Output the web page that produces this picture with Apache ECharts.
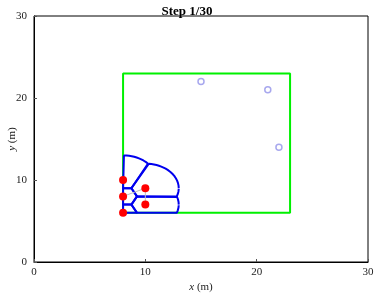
<!DOCTYPE html>
<html><head><meta charset="utf-8">
<script src="https://cdn.jsdelivr.net/npm/echarts@6/dist/echarts.min.js"></script>
<style>html,body{margin:0;padding:0;background:#fff}#c{width:374px;height:294px}</style>
</head><body><div id="c"></div>
<script>
const titleText = 'Step 1/30';
const xTicks = [0, 10, 20, 30];
const yTicks = [0, 10, 20, 30];
const regionX = [8, 23];
const regionY = [6, 23];
const robotsX = [8, 8, 8, 10, 10];
const robotsY = [10, 8, 6, 9, 7];
const sensingRadius = 3;
const targetsX = [15, 21, 22];
const targetsY = [22, 21, 14];
const linkPath = [[1, 3], [3, 4]];

function clip(poly, a, b, c) {
  const out = [];
  for (let i = 0; i < poly.length; i++) {
    const p = poly[i], q = poly[(i + 1) % poly.length];
    const fp = a * p[0] + b * p[1] - c, fq = a * q[0] + b * q[1] - c;
    if (fp <= 0) out.push(p);
    if ((fp < 0 && fq > 0) || (fp > 0 && fq < 0)) {
      const t = fp / (fp - fq);
      out.push([p[0] + t * (q[0] - p[0]), p[1] + t * (q[1] - p[1])]);
    }
  }
  return out;
}
function cell(i) {
  const cx = robotsX[i], cy = robotsY[i];
  let poly = [];
  const N = 240;
  for (let k = 0; k < N; k++) {
    const th = 2 * Math.PI * k / N;
    poly.push([cx + sensingRadius * Math.cos(th), cy + sensingRadius * Math.sin(th)]);
  }
  poly = clip(poly, -1, 0, -regionX[0]);
  poly = clip(poly, 1, 0, regionX[1]);
  poly = clip(poly, 0, -1, -regionY[0]);
  poly = clip(poly, 0, 1, regionY[1]);
  for (let j = 0; j < robotsX.length; j++) {
    if (j === i) continue;
    const a = robotsX[j] - cx, b = robotsY[j] - cy;
    const c = (robotsX[j] ** 2 + robotsY[j] ** 2 - cx * cx - cy * cy) / 2;
    poly = clip(poly, a, b, c);
  }
  poly.push(poly[0]);
  return poly;
}

const series = [];
series.push({
  type: 'line', silent: true, symbol: 'none', z: 2,
  lineStyle: { color: '#00f000', width: 2 },
  data: [[regionX[0], regionY[0]], [regionX[1], regionY[0]], [regionX[1], regionY[1]], [regionX[0], regionY[1]], [regionX[0], regionY[0]]]
});
for (let i = 0; i < robotsX.length; i++) {
  series.push({
    type: 'line', silent: true, symbol: 'none', z: 3,
    lineStyle: { color: '#0000ee', width: 2 },
    data: cell(i)
  });
}
linkPath.forEach(([a, b]) => {
  series.push({
    type: 'line', silent: true, symbol: 'none', z: 4,
    lineStyle: { color: '#c0c0c0', width: 1 },
    data: [[robotsX[a], robotsY[a]], [robotsX[b], robotsY[b]]]
  });
});
series.push({
  type: 'scatter', z: 5, symbol: 'circle', symbolSize: 8,
  itemStyle: { color: '#ff0000', opacity: 1 },
  data: robotsX.map((x, i) => [x, robotsY[i]])
});
series.push({
  type: 'scatter', z: 5, symbol: 'circle', symbolSize: 6,
  itemStyle: { color: 'rgba(255,255,255,0)', borderColor: '#a8a8ee', borderWidth: 1.5, opacity: 1 },
  data: targetsX.map((x, i) => [x, targetsY[i]])
});

const font = 'Liberation Serif';
const chart = echarts.init(document.getElementById('c'));
chart.setOption({
  animation: false,
  backgroundColor: '#fff',
  title: {
    text: titleText, left: 'center', top: 0,
    textStyle: { fontFamily: font, fontWeight: 'bold', fontSize: 13, color: '#000' }
  },
  grid: { left: 34, right: 6, top: 16, bottom: 32, containLabel: false, outerBoundsMode: 'none', show: true, borderColor: '#000', borderWidth: 1 },
  xAxis: {
    type: 'value', min: xTicks[0], max: xTicks[xTicks.length - 1], interval: 10,
    name: '{i|x} (m)', nameLocation: 'middle', nameGap: 20, nameMoveOverlap: false,
    nameTextStyle: { fontFamily: font, fontSize: 11, color: '#222', rich: { i: { fontFamily: font, fontStyle: 'italic', fontSize: 11, color: '#222' } } },
    axisLine: { show: true, lineStyle: { color: '#000' } },
    axisTick: { show: true, inside: true, length: 3, lineStyle: { color: '#555' } },
    axisLabel: { fontFamily: font, fontSize: 11, color: '#222', margin: 5 },
    splitLine: { show: false }
  },
  yAxis: {
    type: 'value', min: yTicks[0], max: yTicks[yTicks.length - 1], interval: 10,
    name: '{i|y} (m)', nameLocation: 'middle', nameGap: 16, nameRotate: 90, nameMoveOverlap: false,
    nameTextStyle: { fontFamily: font, fontSize: 11, color: '#222', rich: { i: { fontFamily: font, fontStyle: 'italic', fontSize: 11, color: '#222' } } },
    axisLine: { show: true, lineStyle: { color: '#000' } },
    axisTick: { show: true, inside: true, length: 3, lineStyle: { color: '#555' } },
    axisLabel: { fontFamily: font, fontSize: 11, color: '#222', margin: 7 },
    splitLine: { show: false }
  },
  series: series
});
</script></body></html>
